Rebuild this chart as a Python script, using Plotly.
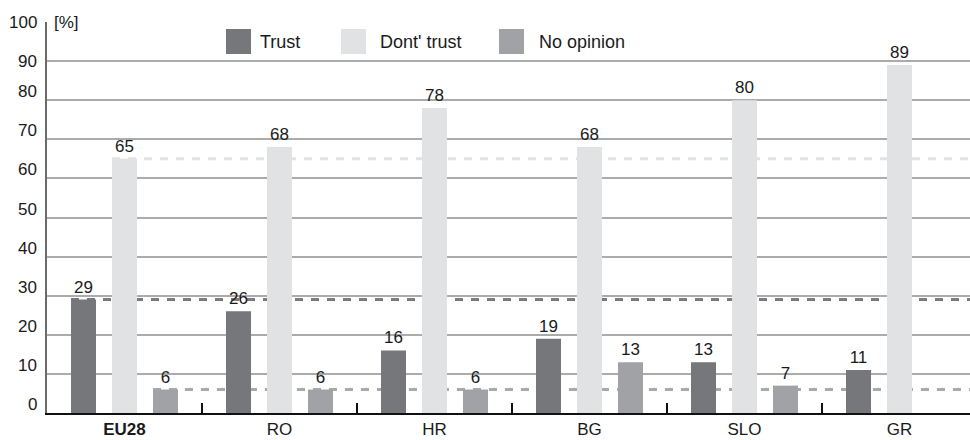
import plotly.graph_objects as go

# ---- data ----
categories = ["EU28", "RO", "HR", "BG", "SLO", "GR"]
trust = [29, 26, 16, 19, 13, 11]
dont_trust = [65, 68, 78, 68, 80, 89]
no_opinion = [6, 6, 6, 13, 7, 0]
series_names = ["Trust", "Dont' trust", "No opinion"]
y_ticks = [0, 10, 20, 30, 40, 50, 60, 70, 80, 90, 100]
unit_label = "[%]"

# ---- style ----
colors = ["#76777b", "#e1e2e4", "#a1a2a5"]
dash_colors = ["#7b7b7f", "#e1e2e4", "#a8a9ac"]
FONT = "Liberation Sans"
TXT = "#1a1a1a"
W, H = 970, 440
ML, MR, MT, MB = 47, 0, 22, 27
PW, PH = W - ML - MR, H - MT - MB
CAT_PX = 155.0
x_max = PW / CAT_PX - 0.5
BARGAP = 0.2065
BARGROUPGAP = 0.39
slot = (1 - BARGAP) / 3
bar_w = slot * (1 - BARGROUPGAP)

def px_x(px):
    return (px - ML) / PW

def px_y(py):
    return (H - MB - py) / PH

fig = go.Figure()
all_series = [trust, dont_trust, no_opinion]
for name, vals, col in zip(series_names, all_series, colors):
    fig.add_trace(go.Bar(
        x=categories, y=vals, name=name, marker=dict(color=col, line=dict(width=0)),
        text=[str(v) if v else "" for v in vals], textposition="outside",
        textfont=dict(family=FONT, size=17, color=TXT), cliponaxis=False,
        constraintext="none", showlegend=False, hoverinfo="skip",
    ))

# reference (EU28) dashed lines
for i, (vals, dc) in enumerate(zip(all_series, dash_colors)):
    x_start = 0 - (1 - BARGAP) / 2 + i * slot + (slot - bar_w) / 2
    fig.add_shape(type="line", xref="x", yref="y", x0=x_start, x1=x_max,
                  y0=vals[0], y1=vals[0], layer="between",
                  line=dict(color=dc, width=3, dash="8px,8px"))

# y tick labels
for v in y_ticks:
    top = v >= 90
    fig.add_annotation(xref="paper", yref="y", x=0, y=v, xshift=-8,
                       xanchor="right", yanchor="middle" if top else "bottom",
                       yshift=0 if top else -3, text=str(v), showarrow=False,
                       font=dict(family=FONT, size=17, color=TXT))

# unit label
fig.add_annotation(xref="paper", yref="y", x=px_x(51), y=100, xanchor="left",
                   yanchor="middle", text=unit_label, showarrow=False,
                   bgcolor="white", borderpad=2,
                   font=dict(family=FONT, size=17, color=TXT))

# custom legend
leg_sw = [226, 341, 499]
leg_txt = [258, 378, 537]
sw = 25
for name, col, x0, xt in zip(series_names, colors, leg_sw, leg_txt):
    fig.add_shape(type="rect", xref="paper", yref="paper",
                  x0=px_x(x0), x1=px_x(x0 + sw), y0=px_y(54), y1=px_y(29),
                  fillcolor=col, line=dict(width=0), layer="above")
    fig.add_annotation(xref="paper", yref="paper", x=px_x(xt),
                       y=px_y(41.5), xanchor="left", yanchor="middle",
                       text=name, showarrow=False,
                       font=dict(family=FONT, size=18, color=TXT))

ticktext = ["<b>%s</b>" % c if i == 0 else c for i, c in enumerate(categories)]

fig.update_layout(
    width=W, height=H, margin=dict(l=ML, r=MR, t=MT, b=MB),
    paper_bgcolor="white", plot_bgcolor="white",
    barmode="group", bargap=BARGAP, bargroupgap=BARGROUPGAP,
    font=dict(family=FONT, size=17, color=TXT),
    xaxis=dict(type="category", range=[-0.5, x_max], tickson="boundaries",
               tickmode="array", tickvals=categories, ticktext=ticktext,
               ticks="inside", ticklen=10, tickwidth=1.5, tickcolor="#111",
               showline=True, linecolor="#111", linewidth=1.5,
               showgrid=False, zeroline=False,
               tickfont=dict(family=FONT, size=17, color=TXT)),
    yaxis=dict(range=[0, 100], dtick=10, tick0=0, showticklabels=False,
               showgrid=True, gridcolor="#ababab", gridwidth=1.5,
               showline=True, linecolor="#6a6a6a", linewidth=2,
               zeroline=False, ticks=""),
)

fig.write_html("out.html", config={"displayModeBar": False},
               post_script="document.body.style.margin='0';document.body.style.overflow='hidden';")
